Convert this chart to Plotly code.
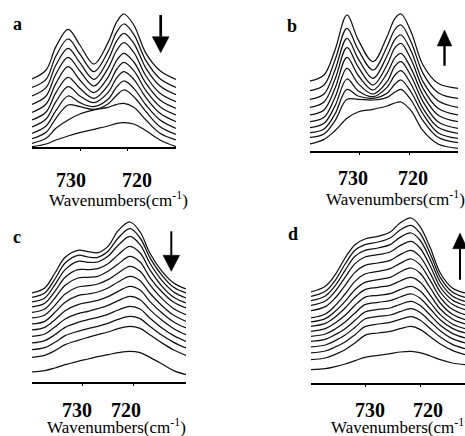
import plotly.graph_objects as go

W, H = 465, 436

# ---------------- data (absorbance, arbitrary units, stacked spectra) -------------
tick_wn = [730, 720]
tick_text = ["730", "720"]
panel_letters = ["a", "b", "c", "d"]
axis_title = "Wavenumbers(cm<sup>-1</sup>)"

wn_a = [740.3, 737.3, 735.2, 732.6, 730.1, 727.1, 724.1, 722.2, 720.7, 718.6, 716.0, 713.0, 709.6]
spectra_a = [
    [204, 231, 301, 353, 306, 249, 313, 376, 399, 366, 281, 229, 203],
    [179, 203, 273, 324, 279, 226, 286, 346, 369, 338, 259, 205, 179],
    [153, 178, 246, 296, 253, 203, 261, 319, 341, 311, 236, 183, 157],
    [128, 153, 219, 269, 228, 183, 236, 291, 313, 284, 213, 161, 136],
    [104, 129, 191, 241, 201, 163, 209, 261, 281, 255, 191, 141, 116],
    [81, 105, 163, 209, 176, 146, 185, 234, 254, 229, 169, 121, 96],
    [60, 84, 136, 181, 153, 133, 163, 208, 226, 203, 148, 101, 76],
    [41, 63, 109, 153, 133, 121, 143, 181, 198, 176, 126, 81, 56],
    [25, 44, 86, 126, 121, 113, 129, 156, 171, 151, 106, 61, 38],
    [11, 26, 56, 81, 99, 111, 119, 128, 131, 119, 81, 41, 21],
    [1, 9, 21, 33, 43, 53, 63, 71, 73, 69, 49, 21, 1],
]

wn_b = [739.9, 737.1, 734.9, 732.5, 730.3, 727.3, 724.5, 722.9, 721.7, 719.7, 717.3, 714.3, 710.3]
spectra_b = [
    [210, 228, 303, 408, 335, 268, 343, 398, 411, 358, 258, 203, 188],
    [181, 198, 273, 368, 305, 243, 313, 365, 378, 328, 233, 175, 158],
    [155, 171, 243, 338, 278, 218, 285, 335, 348, 301, 208, 151, 131],
    [131, 147, 215, 310, 253, 198, 258, 310, 323, 275, 188, 128, 108],
    [108, 123, 188, 281, 228, 183, 233, 280, 293, 248, 168, 108, 88],
    [88, 101, 161, 248, 203, 171, 208, 255, 268, 225, 148, 88, 68],
    [70, 83, 135, 216, 181, 163, 191, 228, 241, 201, 128, 71, 53],
    [55, 66, 111, 185, 165, 158, 173, 201, 213, 177, 111, 55, 38],
    [41, 51, 91, 155, 155, 153, 161, 177, 185, 153, 91, 41, 25],
    [21, 35, 61, 98, 117, 125, 135, 144, 147, 121, 61, 21, 8],
]

wn_c = [740.0, 737.5, 735.5, 733.5, 731.0, 729.0, 727.1, 725.1, 723.1, 720.8, 718.8, 716.9, 714.5, 712.2, 709.8]
spectra_c = [
    [267, 282, 327, 374, 395, 391, 388, 407, 454, 480, 450, 387, 332, 297, 279],
    [254, 267, 309, 357, 380, 375, 374, 392, 432, 460, 432, 374, 320, 284, 267],
    [240, 252, 292, 337, 362, 359, 360, 377, 410, 437, 412, 357, 304, 270, 252],
    [225, 236, 272, 314, 337, 337, 340, 355, 382, 407, 387, 337, 287, 254, 237],
    [209, 219, 252, 290, 312, 314, 317, 332, 354, 377, 360, 314, 270, 239, 222],
    [192, 201, 230, 264, 285, 289, 294, 307, 327, 347, 332, 292, 250, 220, 202],
    [174, 182, 209, 239, 259, 264, 270, 282, 300, 317, 304, 267, 229, 200, 182],
    [156, 164, 187, 214, 232, 239, 245, 256, 272, 287, 276, 242, 207, 180, 162],
    [137, 144, 165, 189, 205, 212, 220, 230, 244, 257, 247, 217, 185, 160, 142],
    [117, 124, 142, 164, 179, 187, 194, 203, 216, 227, 219, 192, 162, 139, 122],
    [97, 103, 119, 139, 152, 160, 167, 176, 188, 197, 190, 167, 140, 119, 102],
    [74, 80, 94, 112, 125, 134, 142, 150, 160, 167, 161, 142, 117, 96, 80],
    [30, 34, 42, 52, 62, 69, 76, 82, 88, 92, 88, 74, 54, 34, 22],
]

wn_d = [739.9, 737.3, 735.5, 733.7, 731.9, 730.1, 727.7, 725.5, 723.7, 721.7, 720.1, 718.2, 716.4, 714.2, 711.9]
spectra_d = [
    [273, 290, 325, 375, 415, 432, 440, 453, 480, 495, 470, 405, 330, 285, 270],
    [260, 275, 308, 357, 398, 415, 423, 435, 459, 473, 450, 387, 317, 273, 257],
    [247, 261, 292, 338, 380, 398, 405, 415, 437, 450, 429, 370, 303, 261, 245],
    [233, 246, 275, 317, 358, 378, 385, 393, 412, 425, 405, 350, 288, 249, 233],
    [217, 229, 255, 293, 332, 353, 360, 368, 385, 398, 380, 328, 273, 236, 220],
    [195, 207, 232, 267, 305, 327, 335, 343, 359, 372, 355, 307, 257, 221, 205],
    [183, 193, 215, 245, 280, 302, 310, 317, 333, 345, 330, 285, 240, 206, 190],
    [170, 179, 198, 225, 257, 280, 287, 293, 306, 317, 303, 263, 222, 192, 177],
    [155, 163, 180, 203, 233, 257, 263, 268, 280, 290, 277, 241, 205, 177, 163],
    [140, 147, 162, 183, 210, 235, 242, 247, 258, 267, 255, 222, 190, 164, 150],
    [125, 131, 145, 163, 188, 213, 221, 225, 236, 245, 233, 203, 173, 149, 135],
    [108, 114, 127, 144, 167, 192, 200, 204, 214, 223, 212, 184, 157, 133, 120],
    [90, 96, 108, 123, 145, 169, 177, 182, 191, 199, 189, 163, 138, 116, 103],
    [70, 75, 86, 100, 120, 143, 150, 155, 163, 170, 161, 139, 117, 98, 85],
    [40, 43, 49, 57, 67, 77, 83, 88, 93, 95, 91, 81, 70, 60, 55],
]

# ---------------- layout (pixel geometry) ----------------
panels = [
    dict(wn=wn_a, spec=spectra_a, x0=32, x1=176, ybase=147, ytop=5,
         lab_x=[71, 136.5], lab_y=179.5, title_x=47, title_y=199,
         letter=(17, 24.5), arrow=dict(x=160.7, tail=15, tip=52.7, base=36.7, hw=8.4, w=2.7)),
    dict(wn=wn_b, spec=spectra_b, x0=310, x1=458, ybase=151, ytop=5,
         lab_x=[352.5, 412.5], lab_y=178.5, title_x=324, title_y=198,
         letter=(292, 26), arrow=dict(x=444.5, tail=65.7, tip=30, base=46, hw=7.3, w=2.4)),
    dict(wn=wn_c, spec=spectra_c, x0=32, x1=186, ybase=382, ytop=218,
         lab_x=[77, 126], lab_y=410, title_x=45, title_y=425.5,
         letter=(17, 236.5), arrow=dict(x=171.3, tail=231.3, tip=271.3, base=255.3, hw=8.3, w=2.0)),
    dict(wn=wn_d, spec=spectra_d, x0=311, x1=465, ybase=383, ytop=216,
         lab_x=[369.5, 428], lab_y=410, title_x=329, title_y=425.5,
         letter=(293, 234), arrow=dict(x=460, tail=279.7, tip=233, base=248.7, hw=7.3, w=2.0)),
]


def px(x):
    return x / W


def py(y):
    return (H - y) / H


SERIF = "Liberation Serif, Times New Roman, serif"
fig = go.Figure()
layout = dict(width=W, height=H, margin=dict(l=0, r=0, t=0, b=0),
              paper_bgcolor="white", plot_bgcolor="white", showlegend=False)
annotations = []
shapes = []

for i, p in enumerate(panels):
    n = "" if i == 0 else str(i + 1)
    xa, ya = "x" + n, "y" + n
    for s in p["spec"]:
        fig.add_trace(go.Scatter(x=p["wn"], y=s, mode="lines", xaxis=xa, yaxis=ya,
                                 line=dict(color="#111111", width=1.25, shape="spline", smoothing=1.0),
                                 hoverinfo="skip"))
    ymax = (p["ybase"] - p["ytop"]) * 3
    layout["xaxis" + n] = dict(domain=[px(p["x0"]), px(p["x1"])],
                               range=[p["wn"][0], p["wn"][-1]], anchor=ya,
                               showline=True, linecolor="black", linewidth=1.6,
                               showgrid=False, zeroline=False,
                               tickvals=tick_wn, ticks="outside", ticklen=2, tickwidth=1,
                               tickcolor="black", showticklabels=False)
    layout["yaxis" + n] = dict(domain=[py(p["ybase"]), py(p["ytop"])], range=[0, ymax],
                               anchor=xa, visible=False)
    for lx, t in zip(p["lab_x"], tick_text):
        annotations.append(dict(x=px(lx), y=py(p["lab_y"]), xref="paper", yref="paper",
                                text="<b>%s</b>" % t, showarrow=False, xanchor="center",
                                yanchor="middle", font=dict(family=SERIF, size=20, color="black")))
    annotations.append(dict(x=px(p["title_x"]), y=py(p["title_y"]), xref="paper", yref="paper",
                            text=axis_title, showarrow=False, xanchor="left", yanchor="middle",
                            font=dict(family=SERIF, size=17, color="black")))
    lx, ly = p["letter"]
    annotations.append(dict(x=px(lx), y=py(ly), xref="paper", yref="paper",
                            text="<b>%s</b>" % panel_letters[i], showarrow=False,
                            xanchor="center", yanchor="middle",
                            font=dict(family=SERIF, size=18, color="black")))
    a = p["arrow"]
    shapes.append(dict(type="line", xref="paper", yref="paper",
                       x0=px(a["x"]), x1=px(a["x"]), y0=py(a["tail"]), y1=py(a["base"]),
                       line=dict(color="black", width=a["w"])))
    path = "M %f %f L %f %f L %f %f Z" % (px(a["x"] - a["hw"]), py(a["base"]),
                                          px(a["x"] + a["hw"]), py(a["base"]),
                                          px(a["x"]), py(a["tip"]))
    shapes.append(dict(type="path", xref="paper", yref="paper", path=path,
                       fillcolor="black", line=dict(color="black", width=0.5)))

layout["annotations"] = annotations
layout["shapes"] = shapes
fig.update_layout(**layout)
fig.write_html("out.html", config={"displayModeBar": False},
               post_script="document.body.style.margin='0px';document.body.style.overflow='hidden';")
